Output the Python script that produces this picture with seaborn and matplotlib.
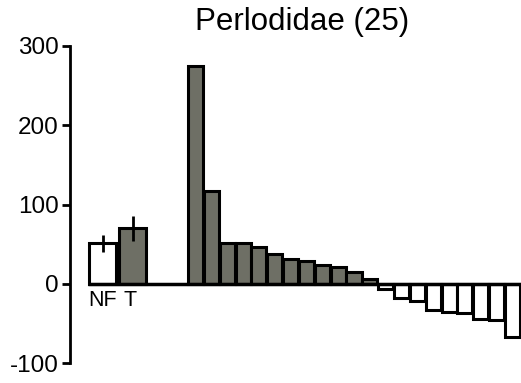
import numpy as np
import pandas as pd
import matplotlib
matplotlib.use("Agg")
import matplotlib.pyplot as plt
import seaborn as sns

# Group summary bars (NF and T) with their error ranges
group_labels = ["NF", "T"]
group_means = [51, 70]
group_err_lo = [40, 54]
group_err_hi = [61, 85]

# Per-taxon response values, sorted from largest to smallest
taxa_values = [274, 117, 51, 51, 46, 38, 31, 29, 24, 21, 15, 6,
               -7, -18, -21, -33, -36, -37, -44, -45, -67]

title = "Perlodidae (25)"
y_ticks = [-100, 0, 100, 200, 300]

gray = "#6e6f65"

sns.set_theme(style="white")
plt.rcParams["font.family"] = ["Liberation Sans", "DejaVu Sans"]

fig = plt.figure(figsize=(5.21, 3.83), dpi=100)
ax = fig.add_axes([0.1344, 0.0514, 0.8656, 0.8293])

# Taxa bars on a numeric axis
taxa_pos = np.arange(len(taxa_values), dtype=float)
taxa_df = pd.DataFrame({
    "pos": taxa_pos,
    "value": taxa_values,
    "sign": ["pos" if v >= 0 else "neg" for v in taxa_values],
})
sns.barplot(data=taxa_df, x="pos", y="value", hue="sign",
            palette={"pos": gray, "neg": "white"}, native_scale=True,
            dodge=False, width=0.95, saturation=1, edgecolor="black",
            linewidth=2.2, legend=False, errorbar=None, ax=ax)

# Group bars to the left of the taxa
group_pos = np.array([-5.84, -3.97])
group_df = pd.DataFrame({"pos": group_pos, "value": group_means,
                         "grp": group_labels})
sns.barplot(data=group_df, x="pos", y="value", hue="grp",
            palette={"NF": "white", "T": gray}, native_scale=True,
            dodge=False, width=0.91, saturation=1, edgecolor="black",
            linewidth=2.2, legend=False, errorbar=None, ax=ax)
ax.vlines(group_pos, group_err_lo, group_err_hi, color="black", lw=2.0,
          zorder=5)

# Zero baseline
ax.plot([-6.8, 20.6], [0, 0], color="black", lw=2.5, clip_on=False,
        zorder=6, solid_capstyle="butt")

# Group labels under the baseline
label_x = [-5.87, -4.15]
for x, lab in zip(label_x, group_labels):
    ax.text(x, -7.5, lab, ha="center", va="top", fontsize=15.5,
            color="black")

ax.set_xlim(-7.92, 20.54)
ax.set_ylim(-100, 300)
ax.set_yticks(y_ticks)
ax.set_yticklabels([str(t) for t in y_ticks], fontsize=17.5)
ax.set_xticks([])
ax.set_xlabel("")
ax.set_ylabel("")
ax.tick_params(axis="y", direction="out", length=6, width=2.0, pad=2,
               left=True, colors="black")
for s in ["top", "right", "bottom"]:
    ax.spines[s].set_visible(False)
ax.spines["left"].set_linewidth(2.0)
ax.spines["left"].set_color("black")
ax.spines["left"].set_bounds(-100, 300)
ax.patch.set_alpha(0)

fig.text(302 / 521, 1 - 22 / 383, title, ha="center", va="center",
         fontsize=22.5, color="black")

fig.savefig("out.png", dpi=100)
